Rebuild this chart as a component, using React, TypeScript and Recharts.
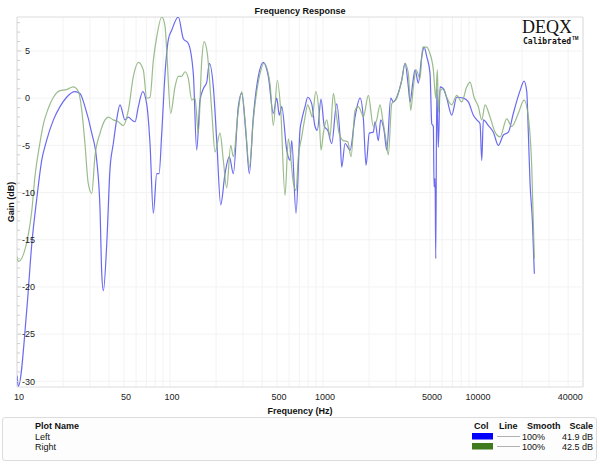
import {
  CartesianGrid,
  Line,
  LineChart,
  ReferenceArea,
  ReferenceLine,
  XAxis,
  YAxis,
} from "recharts";

// Left channel (blue) — frequency in Hz, gain in dB
const leftFreq = [
  10, 10.2, 11.6, 12.5, 13.5, 14.5, 15.6, 17.3, 19.1, 21.1, 23.9, 25.8, 27.8, 30.8, 33.2, 34.9,
  35.8, 36.7, 38.6, 40.5, 42.6, 44.8, 47.1, 50.8, 53.4, 56.2, 59.1, 62.1, 66.3, 70.4, 74.0, 77.8,
  81.9, 84.8, 88.3, 92.8, 97.5, 102.6, 113.3, 122.2, 131.7, 142, 149.4, 157.1, 165.1, 173.8, 180.7,
  191.9, 202, 214.5, 228.8, 244.1, 259.3, 279.5, 294.2, 313.9, 329.8, 350.3, 377.7, 407.2, 439.1,
  473.4, 498.2, 518.1, 537.2, 579.1, 608.6, 624.4, 666.1, 707.5, 725.8, 762.7, 794.3, 843.5, 886.5,
  917.7, 970.3, 1020, 1073, 1140, 1228, 1292, 1325, 1393, 1502, 1619, 1745, 1834, 1910, 2007, 2132,
  2187, 2298, 2383, 2504, 2608, 2770, 2881, 3032, 3269, 3436, 3611, 3704, 3858, 3994, 4196, 4417,
  4573, 4763, 5005, 5135, 5260, 5316, 5397, 5454, 5537, 5587, 5672, 5819, 6115, 6434, 6938, 7479,
  8260, 8906, 9603, 10106, 10620, 10897, 11161, 12032, 12975, 13988, 15083, 16260, 17533, 19393,
  20596, 21445, 21967, 22536, 23333, 24044,
];
const leftGain = [
  -29.4, -30.5, -22.3, -15.4, -10.5, -6.6, -4.5, -2.3, -0.9, 0.1, 0.7, 0.5, -0.9, -3.7, -6.6, -11.9,
  -18.6, -20.4, -15.4, -7.6, -4.8, -2.3, -0.7, -2.3, -2.0, -2.3, -2.5, -0.9, 0.7, -0.6, -4.8, -12.2,
  -8.0, -8.0, -3.7, 2.6, 6.2, 7.2, 8.6, 6.3, 5.8, 2.6, -5.5, -0.2, 1.0, 1.7, 3.7,
  1.2, -4.5, -11.3, -8.0, -6.2, -8.0, -0.9, 0.5, -3.9, -8.0, -2.0, 2.3, 3.8, 2.3,
  -1.6, 0.0, -1.8, -0.9, -5.5, -6.6, -4.5, -12.2, -3.3, -2.3, -0.9, 0.1, -0.6, -3.0,
  -3.4, -0.1, -3.0, -3.4, -4.8, -0.6, -4.1, -7.3, -4.8, -5.5, -2.0, 0.0, -2.1, -7.1, -3.7, -3.6,
  -2.5, -4.5, -2.3, -3.4, -5.5, 0.0, -0.4, 0.1, 1.9, 3.7, 1.2, -0.4, 1.6, 3.0, 1.6, 4.4,
  5.4, 4.4, 2.6, -2.7, -3.0, -9.4, -8.5, -17.0, 1.0, -1.0, -5.2, 1.2, 1.0, 0.0, -1.8, 0.1,
  0.0, -0.4, -1.8, -2.3, -2.7, -6.6, -2.3, -2.9, -3.6, -5.0, -3.9, -3.6, -1.6, 0.8,
  1.8, 0.7, -3.7, -9.0, -12.9, -18.6,
];

// Right channel (green)
const rightFreq = [
  10, 10.2, 11.9, 12.5, 13.1, 14.1, 14.9, 16.0, 17.3, 19.1, 21.1, 23.3, 25.2, 26.5, 27.8, 29.2, 30.8,
  32.3, 34.9, 37.6, 39.5, 42.6, 45.9, 49.5, 53.4, 57.6, 62.1, 66.9, 70.4, 74.0, 77.8, 81.9, 88.3,
  92.8, 95.1, 101, 107.8, 113.3, 119.2, 125.3, 131.7, 138.7, 145.7, 153.1, 161.2, 166.9, 175.4,
  187.3, 196.9, 212.3, 223.1, 234.7, 249.3, 259.3, 279.5, 294.2, 309.2, 329.8, 350.3, 387.5, 411.5,
  450.4, 473.4, 502.7, 529.1, 564.5, 593.3, 640, 666, 689.6, 725.8, 762.7, 794.3, 822.2, 851.2, 896,
  941.6, 970.3, 1005, 1057, 1111, 1168, 1228, 1273, 1357, 1450, 1524, 1619, 1701, 1790, 1834, 1978,
  2132, 2244, 2358, 2456, 2581, 2672, 2812, 3032, 3269, 3436, 3611, 3743, 3893, 4054, 4305, 4484,
  4763, 4953, 5260, 5454, 5587, 5672, 5819, 6115, 6434, 6938, 7479, 8064, 8694, 9137, 9704, 10352,
  10897, 11450, 12344, 13311, 14352, 15874, 17114, 18903, 20596, 21967, 23124, 24044,
];
const rightGain = [
  -16.8, -17.3, -14.3, -11.9, -8.3, -4.8, -2.7, -1.1, 0.1, 0.8, 0.9, 1.2, 0.7, -1.3, -4.8, -9.0, -10.1,
  -6.2, -3.7, -2.3, -2.0, -2.3, -2.5, -2.9, -1.3, 2.3, 3.8, 3.0, 0.0, 0.1, 4.0, 6.5, 8.6,
  7.6, 5.1, -1.6, 1.2, 2.3, 2.3, 2.8, 2.1, -0.2, 0.0, -3.7, 4.0, 6.0, 4.7,
  -1.3, -5.7, -3.7, -6.6, -9.5, -5.0, -6.2, -1.3, 0.7, -2.3, -7.3, -2.3, 2.6, 3.7,
  1.5, -2.9, 1.9, -1.3, -10.3, -4.3, -9.0, -9.8, -6.2, -4.1, -2.0, -0.7, -1.3, -2.0, 0.7,
  -1.6, -5.5, -3.7, -2.3, -4.1, 0.5, -2.0, -3.7, -4.5, -4.6, -6.2, -1.3, -0.9, -1.6, -2.0, 0.3,
  -3.0, -2.3, -0.7, -2.3, -4.5, -6.0, -0.6, 0.0, 1.9, 3.7, 2.6, -1.3, 1.2, 3.0, 2.1, 5.4,
  5.4, 4.9, 3.0, 0.0, 3.0, -1.5, 0.8, 1.0, 0.1, -0.7, 0.3, -0.4, 1.2, 1.7, 0.1, -0.9,
  -2.3, -0.7, -2.0, -3.6, -4.1, -2.2, -3.0, -1.6, -0.2, -2.0, -7.3, -17.0,
];

const freqGrid = [
  10, 20, 30, 40, 50, 60, 70, 80, 90, 100, 200, 300, 400, 500, 600, 700, 800, 900, 1000, 2000, 3000,
  4000, 5000, 6000, 7000, 8000, 9000, 10000, 20000, 30000, 40000,
];
const freqLabels = [10, 50, 100, 500, 1000, 5000, 10000, 40000];
const gainTicks = [
  -30, -29, -28, -27, -26, -25, -24, -23, -22, -21, -20, -19, -18, -17, -16, -15, -14, -13, -12, -11,
  -10, -9, -8, -7, -6, -5, -4, -3, -2, -1, 0, 1, 2, 3, 4, 5, 6, 7, 8,
];
const gainGrid = [5, 0, -5, -10, -15, -20, -25, -30];

const plotNames = ["Left", "Right"];
const swatchColors = ["#0000ff", "#3f7a1c"];
const smoothValues = ["100%", "100%"];
const scaleValues = ["41.9 dB", "42.5 dB"];

const leftData = leftFreq.map((freq, i) => ({ freq, gain: leftGain[i] }));
const rightData = rightFreq.map((freq, i) => ({ freq, gain: rightGain[i] }));

const FONT = '"Liberation Sans", Arial, Helvetica, sans-serif';

function FreqTick(props: any) {
  const { x, y, payload } = props;
  if (!freqLabels.includes(payload.value)) return <g />;
  return (
    <text x={x + 2} y={y + 12.5} textAnchor="middle" fontSize={9} fill="#222" fontFamily={FONT}>
      {payload.value}
    </text>
  );
}

function GainTick(props: any) {
  const { x, y, payload } = props;
  const v = payload.value;
  const major = v % 5 === 0;
  return (
    <g>
      <line x1={x} x2={x + (major ? 4 : 3)} y1={y} y2={y} stroke="#cfcfcf" />
      {major && (
        <text x={x + (v < 0 ? 5 : 8)} y={y} dy="0.36em" fontSize={9} fill="#222" fontFamily={FONT}>
          {v}
        </text>
      )}
    </g>
  );
}

export default function App() {
  return (
    <div style={{ position: "absolute", left: 0, top: 0, width: 600, height: 464, background: "#fff", fontFamily: FONT }}>
      <LineChart width={600} height={464} margin={{ top: 17, right: 17, bottom: 57, left: 16 }}>
        <CartesianGrid horizontal={false} stroke="#f3f3f3" />
        {gainGrid.map((g) => (
          <ReferenceLine key={g} y={g} stroke="#f3f3f3" />
        ))}
        <ReferenceArea x1={10} x2={50000} y1={-30.6} y2={8.6} fill="none" stroke="#dcdcdc" />
        <XAxis
          dataKey="freq"
          type="number"
          scale="log"
          domain={[10, 50000]}
          ticks={freqGrid}
          interval={0}
          tick={(p: any) => <FreqTick {...p} />}
          tickLine={false}
          axisLine={false}
          tickSize={0}
          tickMargin={0}
          height={20}
          allowDataOverflow
        />
        <YAxis
          type="number"
          domain={[-30.6, 8.6]}
          ticks={gainTicks}
          interval={0}
          tick={(p: any) => <GainTick {...p} />}
          tickLine={false}
          axisLine={false}
          tickSize={0}
          tickMargin={0}
          width={1}
          allowDataOverflow
        />
        <Line
          data={leftData}
          dataKey="gain"
          name="Left"
          type="monotone"
          stroke="#5a5af0"
          strokeWidth={1.2}
          strokeOpacity={0.9}
          dot={false}
          isAnimationActive={false}
        />
        <Line
          data={rightData}
          dataKey="gain"
          name="Right"
          type="monotone"
          stroke="#88b078"
          strokeWidth={1.2}
          strokeOpacity={0.85}
          dot={false}
          isAnimationActive={false}
        />
      </LineChart>

      <svg width={600} height={464} style={{ position: "absolute", left: 0, top: 0, pointerEvents: "none" }}>
        <text x={300} y={14} textAnchor="middle" fontSize={9} fontWeight="bold" fill="#111" fontFamily={FONT}>
          Frequency Response
        </text>
        <text x={300} y={413.5} textAnchor="middle" fontSize={9} fontWeight="bold" fill="#111" fontFamily={FONT}>
          Frequency (Hz)
        </text>
        <text
          transform="translate(14,202) rotate(-90)"
          textAnchor="middle"
          fontSize={9}
          fontWeight="bold"
          fill="#111"
          fontFamily={FONT}
        >
          Gain (dB)
        </text>

        {/* logo */}
        <text x={522} y={33} fontSize={18} fill="#111" fontFamily='"Liberation Serif", "DejaVu Serif", serif'>
          DEQX
        </text>
        <text x={523} y={44} fontSize={8} fontWeight="bold" fill="#111" fontFamily='"DejaVu Sans Mono", monospace'>
          Calibrated
        </text>
        <text x={572} y={40} fontSize={4.5} fontWeight="bold" fill="#111" fontFamily={FONT}>
          TM
        </text>
      </svg>

      {/* legend table */}
      <div
        style={{
          position: "absolute",
          left: 2,
          top: 417,
          width: 595,
          height: 44,
          border: "1px solid #dcdcdc",
          borderRadius: 3,
          boxSizing: "border-box",
          background: "#fdfdfd",
        }}
      />
      <svg width={600} height={464} style={{ position: "absolute", left: 0, top: 0, pointerEvents: "none" }}>
        <text x={35} y={429} fontSize={9} fontWeight="bold" fill="#111" fontFamily={FONT}>
          Plot Name
        </text>
        <text x={474} y={429} fontSize={9} fontWeight="bold" fill="#111" fontFamily={FONT}>
          Col
        </text>
        <text x={499} y={429} fontSize={9} fontWeight="bold" fill="#111" fontFamily={FONT}>
          Line
        </text>
        <text x={527} y={429} fontSize={9} fontWeight="bold" fill="#111" fontFamily={FONT}>
          Smooth
        </text>
        <text x={593} y={429} textAnchor="end" fontSize={9} fontWeight="bold" fill="#111" fontFamily={FONT}>
          Scale
        </text>
        {plotNames.map((name, i) => {
          const base = 440 + i * 10;
          return (
            <g key={name}>
              <text x={35} y={base} fontSize={9} fill="#111" fontFamily={FONT}>
                {name}
              </text>
              <rect x={472} y={base - 7} width={21} height={6.5} fill={swatchColors[i]} />
              <line x1={497} x2={520} y1={base - 3.5} y2={base - 3.5} stroke="#b0b0b0" strokeWidth={1} />
              <text x={522} y={base} fontSize={9} fill="#111" fontFamily={FONT}>
                {smoothValues[i]}
              </text>
              <text x={593} y={base} textAnchor="end" fontSize={9} fill="#111" fontFamily={FONT}>
                {scaleValues[i]}
              </text>
            </g>
          );
        })}
      </svg>
    </div>
  );
}
